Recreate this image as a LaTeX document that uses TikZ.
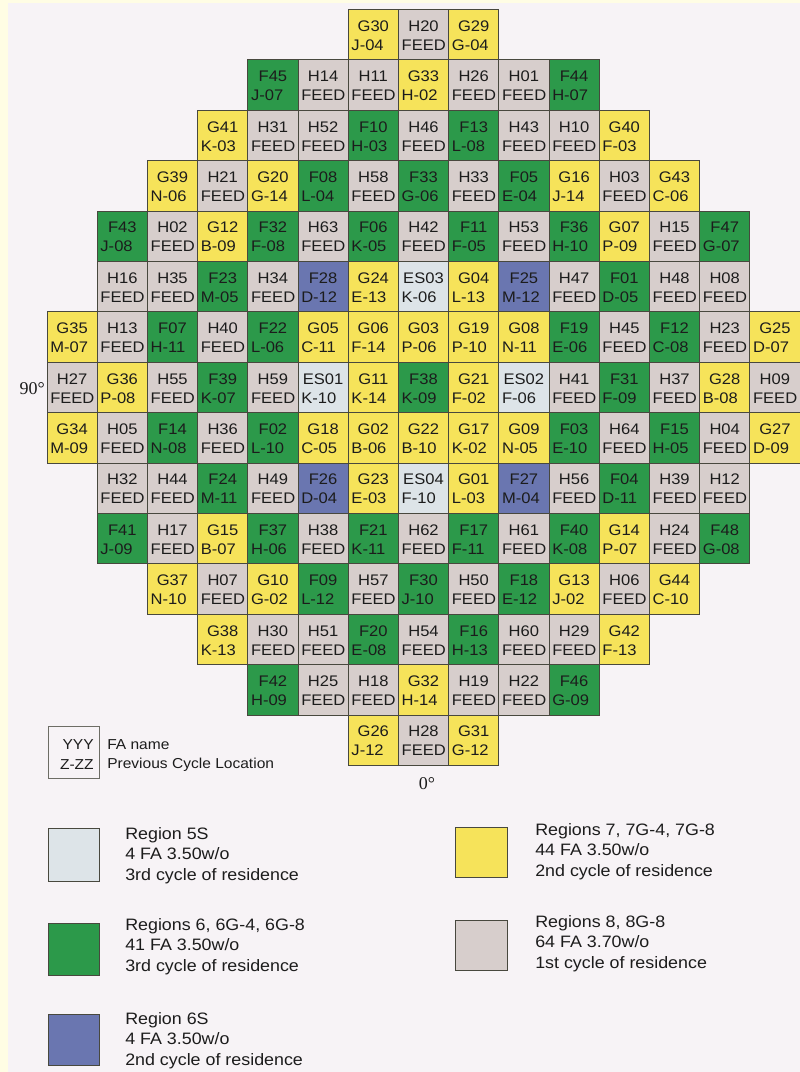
\documentclass[tikz,border=0pt]{standalone}
\usepackage{fontspec}
\setmainfont[FakeStretch=1.08]{Liberation Sans}
\newfontfamily\degfont{Liberation Serif}
\usepackage{xcolor}
\usepackage{tikz}
\usetikzlibrary{positioning}

\definecolor{paper}{RGB}{247,243,246}
\definecolor{edgeY}{RGB}{255,253,228}
\definecolor{regYel}{RGB}{246,227,90}
\definecolor{regGrn}{RGB}{44,153,74}
\definecolor{regFeed}{RGB}{215,206,204}
\definecolor{regES}{RGB}{221,228,232}
\definecolor{regBlu}{RGB}{106,118,176}
\definecolor{gridline}{RGB}{72,72,62}
\definecolor{ink}{RGB}{28,28,28}

\tikzset{
  fabox/.style={draw=gridline, line width=0.7pt},
  r7/.style={fabox, fill=regYel},
  r6/.style={fabox, fill=regGrn},
  r8/.style={fabox, fill=regFeed},
  r5s/.style={fabox, fill=regES},
  r6s/.style={fabox, fill=regBlu},
  fatop/.style={inner sep=0pt, text=ink, font=\fontsize{11.5}{12}\selectfont},
  fabot/.style={fatop, anchor=west},
  keytxt/.style={inner sep=0pt, text=ink, font=\fontsize{10.8}{12}\selectfont},
  legtxt/.style={inner sep=0pt, text=ink, anchor=north west, align=left, font=\fontsize{12.4}{15.5}\selectfont},
  degtxt/.style={inner sep=0pt, text=ink, font=\degfont\fontsize{13.5}{15}\selectfont},
}

% one fuel assembly: column, row, region style, FA name, previous location
\newcommand{\fa}[5]{%
  \path[#3] ({47+50.2*#1},{9.5+50.4*#2}) rectangle ++(50.2,50.4);
  \node[fatop] (t-#4) at ({72.1+50.2*#1},{26+50.4*#2}) {#4};
  \node[fabot] (b-#4) at ({50+50.2*#1},{45+50.4*#2}) {#5};
}

\begin{document}
\begin{tikzpicture}[x=0.75pt, y=-0.75pt]
			\fill[paper] (0,0) rectangle (800,1072);
			\fill[edgeY] (0,0) rectangle (8,1072);
			\fill[edgeY] (0,0) rectangle (800,3);
			\useasboundingbox (0,0) rectangle (800,1072);
			% Core map, row by row:
			\foreach \c/\s/\a/\b in {6/r7/G30/J-04, 7/r8/H20/FEED, 8/r7/G29/G-04}
				{\fa{\c}{0}{\s}{\a}{\b}}
			\foreach \c/\s/\a/\b in {4/r6/F45/J-07, 5/r8/H14/FEED, 6/r8/H11/FEED, 7/r7/G33/H-02, 8/r8/H26/FEED, 9/r8/H01/FEED, 10/r6/F44/H-07}
				{\fa{\c}{1}{\s}{\a}{\b}}
			\foreach \c/\s/\a/\b in {3/r7/G41/K-03, 4/r8/H31/FEED, 5/r8/H52/FEED, 6/r6/F10/H-03, 7/r8/H46/FEED, 8/r6/F13/L-08, 9/r8/H43/FEED, 10/r8/H10/FEED, 11/r7/G40/F-03}
				{\fa{\c}{2}{\s}{\a}{\b}}
			\foreach \c/\s/\a/\b in {2/r7/G39/N-06, 3/r8/H21/FEED, 4/r7/G20/G-14, 5/r6/F08/L-04, 6/r8/H58/FEED, 7/r6/F33/G-06, 8/r8/H33/FEED, 9/r6/F05/E-04, 10/r7/G16/J-14, 11/r8/H03/FEED, 12/r7/G43/C-06}
				{\fa{\c}{3}{\s}{\a}{\b}}
			\foreach \c/\s/\a/\b in {1/r6/F43/J-08, 2/r8/H02/FEED, 3/r7/G12/B-09, 4/r6/F32/F-08, 5/r8/H63/FEED, 6/r6/F06/K-05, 7/r8/H42/FEED, 8/r6/F11/F-05, 9/r8/H53/FEED, 10/r6/F36/H-10, 11/r7/G07/P-09, 12/r8/H15/FEED, 13/r6/F47/G-07}
				{\fa{\c}{4}{\s}{\a}{\b}}
			\foreach \c/\s/\a/\b in {1/r8/H16/FEED, 2/r8/H35/FEED, 3/r6/F23/M-05, 4/r8/H34/FEED, 5/r6s/F28/D-12, 6/r7/G24/E-13, 7/r5s/ES03/K-06, 8/r7/G04/L-13, 9/r6s/F25/M-12, 10/r8/H47/FEED, 11/r6/F01/D-05, 12/r8/H48/FEED, 13/r8/H08/FEED}
				{\fa{\c}{5}{\s}{\a}{\b}}
			\foreach \c/\s/\a/\b in {0/r7/G35/M-07, 1/r8/H13/FEED, 2/r6/F07/H-11, 3/r8/H40/FEED, 4/r6/F22/L-06, 5/r7/G05/C-11, 6/r7/G06/F-14, 7/r7/G03/P-06, 8/r7/G19/P-10, 9/r7/G08/N-11, 10/r6/F19/E-06, 11/r8/H45/FEED, 12/r6/F12/C-08, 13/r8/H23/FEED, 14/r7/G25/D-07}
				{\fa{\c}{6}{\s}{\a}{\b}}
			\foreach \c/\s/\a/\b in {0/r8/H27/FEED, 1/r7/G36/P-08, 2/r8/H55/FEED, 3/r6/F39/K-07, 4/r8/H59/FEED, 5/r5s/ES01/K-10, 6/r7/G11/K-14, 7/r6/F38/K-09, 8/r7/G21/F-02, 9/r5s/ES02/F-06, 10/r8/H41/FEED, 11/r6/F31/F-09, 12/r8/H37/FEED, 13/r7/G28/B-08, 14/r8/H09/FEED}
				{\fa{\c}{7}{\s}{\a}{\b}}
			\foreach \c/\s/\a/\b in {0/r7/G34/M-09, 1/r8/H05/FEED, 2/r6/F14/N-08, 3/r8/H36/FEED, 4/r6/F02/L-10, 5/r7/G18/C-05, 6/r7/G02/B-06, 7/r7/G22/B-10, 8/r7/G17/K-02, 9/r7/G09/N-05, 10/r6/F03/E-10, 11/r8/H64/FEED, 12/r6/F15/H-05, 13/r8/H04/FEED, 14/r7/G27/D-09}
				{\fa{\c}{8}{\s}{\a}{\b}}
			\foreach \c/\s/\a/\b in {1/r8/H32/FEED, 2/r8/H44/FEED, 3/r6/F24/M-11, 4/r8/H49/FEED, 5/r6s/F26/D-04, 6/r7/G23/E-03, 7/r5s/ES04/F-10, 8/r7/G01/L-03, 9/r6s/F27/M-04, 10/r8/H56/FEED, 11/r6/F04/D-11, 12/r8/H39/FEED, 13/r8/H12/FEED}
				{\fa{\c}{9}{\s}{\a}{\b}}
			\foreach \c/\s/\a/\b in {1/r6/F41/J-09, 2/r8/H17/FEED, 3/r7/G15/B-07, 4/r6/F37/H-06, 5/r8/H38/FEED, 6/r6/F21/K-11, 7/r8/H62/FEED, 8/r6/F17/F-11, 9/r8/H61/FEED, 10/r6/F40/K-08, 11/r7/G14/P-07, 12/r8/H24/FEED, 13/r6/F48/G-08}
				{\fa{\c}{10}{\s}{\a}{\b}}
			\foreach \c/\s/\a/\b in {2/r7/G37/N-10, 3/r8/H07/FEED, 4/r7/G10/G-02, 5/r6/F09/L-12, 6/r8/H57/FEED, 7/r6/F30/J-10, 8/r8/H50/FEED, 9/r6/F18/E-12, 10/r7/G13/J-02, 11/r8/H06/FEED, 12/r7/G44/C-10}
				{\fa{\c}{11}{\s}{\a}{\b}}
			\foreach \c/\s/\a/\b in {3/r7/G38/K-13, 4/r8/H30/FEED, 5/r8/H51/FEED, 6/r6/F20/E-08, 7/r8/H54/FEED, 8/r6/F16/H-13, 9/r8/H60/FEED, 10/r8/H29/FEED, 11/r7/G42/F-13}
				{\fa{\c}{12}{\s}{\a}{\b}}
			\foreach \c/\s/\a/\b in {4/r6/F42/H-09, 5/r8/H25/FEED, 6/r8/H18/FEED, 7/r7/G32/H-14, 8/r8/H19/FEED, 9/r8/H22/FEED, 10/r6/F46/G-09}
				{\fa{\c}{13}{\s}{\a}{\b}}
			\foreach \c/\s/\a/\b in {6/r7/G26/J-12, 7/r8/H28/FEED, 8/r7/G31/G-12}
				{\fa{\c}{14}{\s}{\a}{\b}}
			% Orientation marks:
			\node[degtxt, anchor=east] (deg90) at (45,389) {90°};
			\node[degtxt] (deg0) at (427,784) {0°};
			% Key and legend:
			\path[draw=gridline!80, line width=0.7pt] (48,726) rectangle (99,778);
			\node[keytxt, anchor=east] (key-yyy) at (94,745) {YYY};
			\node[keytxt, anchor=east] (key-zzz) at (94,765) {Z-ZZ};
			\node[keytxt, anchor=west] (key-fa) at (107,745) {FA name};
			\node[keytxt, anchor=west] (key-loc) at (107,765) {Previous Cycle Location};
			\path[r5s] (48,828) rectangle (99,881);
			\node[legtxt] (leg-5s) at (125,827) {Region 5S\\4 FA 3.50w/o\\3rd cycle of residence};
			\path[r6] (48,923) rectangle (99,975);
			\node[legtxt] (leg-6) at (125,918) {Regions 6, 6G-4, 6G-8\\41 FA 3.50w/o\\3rd cycle of residence};
			\path[r6s] (48,1014) rectangle (99,1065);
			\node[legtxt] (leg-6s) at (125,1012) {Region 6S\\4 FA 3.50w/o\\2nd cycle of residence};
			\path[r7] (455,827) rectangle (507,877);
			\node[legtxt] (leg-7) at (535,823) {Regions 7, 7G-4, 7G-8\\44 FA 3.50w/o\\2nd cycle of residence};
			\path[r8] (455,920) rectangle (507,970);
			\node[legtxt] (leg-8) at (535,915) {Regions 8, 8G-8\\64 FA 3.70w/o\\1st cycle of residence};
		\end{tikzpicture}
\end{document}
